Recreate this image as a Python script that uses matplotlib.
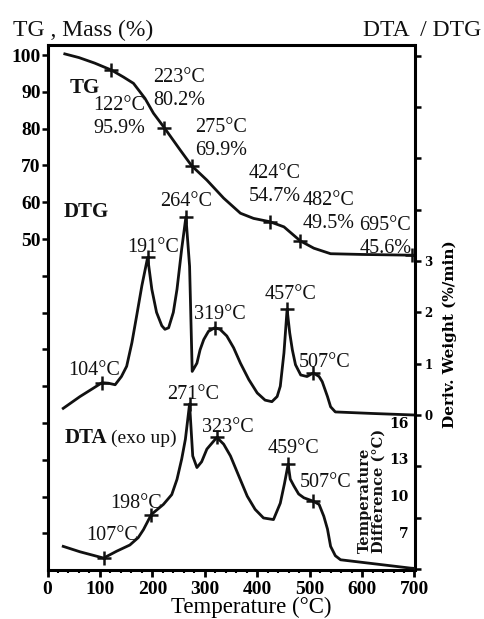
import matplotlib
matplotlib.use("Agg")
import matplotlib.pyplot as plt
from matplotlib.ticker import FixedLocator, FixedFormatter, MultipleLocator

plt.rcParams['font.family'] = ['Liberation Serif', 'DejaVu Serif']

# ---------------- data ----------------
tg_T = [33, 60, 90, 122, 145, 164, 186, 202, 223, 253, 275, 304, 336, 368, 393, 424, 451, 482, 508, 540, 600, 695, 700]
tg_v = [100.3, 99.3, 97.8, 95.9, 94.0, 92.3, 88.2, 84.2, 80.2, 74.2, 69.9, 66.0, 61.1, 57.0, 55.6, 54.7, 53.3, 49.5, 47.5, 46.0, 45.8, 45.6, 45.6]

dtg_T = [30, 62, 87, 104, 116, 129, 141, 151, 161, 170, 180, 191, 199, 208, 218, 224, 231, 240, 247, 256, 264,
         271, 276, 285, 291, 298, 307, 319, 329, 342, 355, 368, 384, 400, 415, 428, 438, 444, 451, 457,
         462, 467, 473, 483, 495, 507, 518, 524, 534, 540, 549, 620, 700]
dtg_v = [0.13, 0.36, 0.52, 0.63, 0.62, 0.59, 0.75, 0.95, 1.41, 1.93, 2.52, 3.07, 2.45, 2.0, 1.74, 1.67, 1.70, 2.0, 2.45, 3.24, 3.86,
         2.9, 0.85, 1.01, 1.27, 1.47, 1.63, 1.70, 1.67, 1.54, 1.31, 1.01, 0.69, 0.43, 0.29, 0.26, 0.36, 0.56, 1.21, 2.06,
         1.6, 1.27, 0.98, 0.78, 0.75, 0.82, 0.75, 0.65, 0.36, 0.16, 0.06, 0.03, 0.0]

dta_T = [30, 62, 107, 132, 157, 173, 183, 198, 221, 237, 247, 256, 263, 271, 277, 285, 294, 304, 323, 336, 349,
         365, 381, 396, 412, 431, 444, 452, 459, 463, 470, 479, 489, 507, 518, 527, 534, 540, 549, 559, 693, 700]
dta_v = [5.89, 5.45, 4.94, 5.5, 6.0, 6.6, 7.25, 8.48, 9.3, 10.1, 11.34, 13.0, 14.6, 17.47, 13.24, 12.3, 12.77, 13.8, 14.75, 14.2, 13.24,
         11.6, 9.97, 8.9, 8.2, 8.07, 9.4, 11.0, 12.57, 11.36, 10.8, 10.15, 9.84, 9.56, 9.3, 8.34, 7.3, 5.89, 5.13, 4.8, 4.12, 4.1]

tg_mark_T = [122, 223, 275, 424, 482, 695]
tg_mark_v = [95.9, 80.2, 69.9, 54.7, 49.5, 45.6]
tg_labels = ["122°C\n95.9%", "223°C\n80.2%", "275°C\n69.9%", "424°C\n54.7%", "482°C\n49.5%", "695°C\n45.6%"]

dtg_mark_T = [104, 191, 264, 319, 457, 507]
dtg_mark_v = [0.63, 3.07, 3.86, 1.70, 2.06, 0.82]
dtg_labels = ["104°C", "191°C", "264°C", "319°C", "457°C", "507°C"]

dta_mark_T = [107, 198, 271, 323, 459, 507]
dta_mark_v = [4.94, 8.48, 17.47, 14.75, 12.57, 9.56]
dta_labels = ["107°C", "198°C", "271°C", "323°C", "459°C", "507°C"]

x_ticks = [0, 100, 200, 300, 400, 500, 600, 700]
tg_ticks = [-40, -30, -20, -10, 0, 10, 20, 30, 40, 50, 60, 70, 80, 90, 100]
tg_ticklabels = ["", "", "", "", "", "", "", "", "", "50", "60", "70", "80", "90", "100"]
dtg_ticks = [-3, -2, -1, 0, 1, 2, 3, 4, 5, 6, 7]
dtg_ticklabels = ["", "", "", "0", "1", "2", "3", "", "", "", ""]
dta_ticks = [7, 10, 13, 16]
dta_ticklabels = ["7", "10", "13", "16"]

# ---------------- layout (pixel offsets for labels, in px; last-line baseline) ----------------
tg_off = [(-17.8, -62.9), (-11.6, 22.9), (3.2, 10.8), (-20.8, 21.2), (2, 12.8), (-52.5, 2.2)]
dtg_off = [(-33.4, 7.9), (-20.9, 5.4), (-26, 11.1), (-20.8, 8.3), (-22, 10), (-14.2, 6.2)]
dta_off = [(-17, 18), (-41.5, 6.5), (-22.7, 5), (-14.9, 5.4), (-21, 11), (-13.2, 14.2)]

W, H = 484, 619
fig = plt.figure(figsize=(W / 100, H / 100), dpi=100)
L, R, T, B = 47.5, 414.5, 45, 570
ax = fig.add_axes([L / W, 1 - B / H, (R - L) / W, (B - T) / H])
ax2 = ax.twinx()
ax3 = ax.twinx()

lw = 2.0
col = '#111111'
ax.plot(tg_T, tg_v, color=col, lw=lw, solid_joinstyle='round')
ax.plot(tg_mark_T, tg_mark_v, ls='none', marker='+', ms=10, mew=1.8, color=col)
ax2.plot(dtg_T, dtg_v, color=col, lw=lw, solid_joinstyle='round')
ax2.plot(dtg_mark_T, dtg_mark_v, ls='none', marker='+', ms=10, mew=1.8, color=col)
ax3.plot(dta_T, dta_v, color=col, lw=lw, solid_joinstyle='round')
ax3.plot(dta_mark_T, dta_mark_v, ls='none', marker='+', ms=10, mew=1.8, color=col)

ax.set_xlim(0, 700)
ax.set_ylim(-39.95, 102.72)
ax2.set_ylim(-3.02, 7.21)
ax3.set_ylim(3.97, 46.65)

fs_ann = 14.5
pt = 0.72
for Tm, v, lab, (dx, dy) in zip(tg_mark_T, tg_mark_v, tg_labels, tg_off):
    ax.annotate(lab, xy=(Tm, v), xytext=(dx * pt, dy * pt), textcoords='offset points',
                ha='left', va='baseline', fontsize=fs_ann, linespacing=1.28, color=col)
for Tm, v, lab, (dx, dy) in zip(dtg_mark_T, dtg_mark_v, dtg_labels, dtg_off):
    ax2.annotate(lab, xy=(Tm, v), xytext=(dx * pt, dy * pt), textcoords='offset points',
                 ha='left', va='baseline', fontsize=fs_ann, color=col)
for Tm, v, lab, (dx, dy) in zip(dta_mark_T, dta_mark_v, dta_labels, dta_off):
    ax3.annotate(lab, xy=(Tm, v), xytext=(dx * pt, dy * pt), textcoords='offset points',
                 ha='left', va='baseline', fontsize=fs_ann, color=col)

# spines
for s in ['left', 'bottom', 'top']:
    ax.spines[s].set_linewidth(2.2)
ax.spines['right'].set_visible(False)
for s in ['left', 'bottom', 'top']:
    ax2.spines[s].set_visible(False)
ax2.spines['right'].set_linewidth(2.2)
for s in ax3.spines.values():
    s.set_visible(False)

# x axis
ax.xaxis.set_major_locator(FixedLocator(x_ticks))
ax.xaxis.set_minor_locator(MultipleLocator(20))
ax.tick_params(axis='x', which='major', length=5, width=2, direction='out', pad=3,
               labelsize=14)
ax.tick_params(axis='x', which='minor', length=2.5, width=1.5, direction='out')
for lab in ax.get_xticklabels():
    lab.set_fontweight('bold')
ax.set_xlabel('Temperature (°C)', fontsize=16.5)
ax.xaxis.label.set_verticalalignment('baseline')
ax.xaxis.set_label_coords((251.5 - L) / (R - L), (B - 613) / (B - T))

# left axis
ax.yaxis.set_major_locator(FixedLocator(tg_ticks))
ax.yaxis.set_major_formatter(FixedFormatter(tg_ticklabels))
ax.tick_params(axis='y', length=4, width=1.8, direction='out', pad=1, labelsize=14)
for lab in ax.get_yticklabels():
    lab.set_fontweight('bold')

# DTG axis
ax2.yaxis.set_major_locator(FixedLocator(dtg_ticks))
ax2.yaxis.set_major_formatter(FixedFormatter(dtg_ticklabels))
ax2.tick_params(axis='y', length=4, width=1.8, direction='out', pad=3, labelsize=8.5)
for lab in ax2.get_yticklabels():
    lab.set_fontfamily('DejaVu Serif')
    lab.set_fontweight('bold')
ax2.set_ylabel('Deriv. Weight (%/min)', fontsize=11, fontfamily='DejaVu Serif',
               fontweight='bold', rotation=90)
ax2.yaxis.set_label_coords((443 - L) / (R - L), (B - 334) / (B - T))

# DTA axis (labels inside)
ax3.yaxis.set_major_locator(FixedLocator(dta_ticks))
ax3.yaxis.set_major_formatter(FixedFormatter(dta_ticklabels))
ax3.tick_params(axis='y', length=0, pad=-4, labelsize=10)
for lab in ax3.get_yticklabels():
    lab.set_fontfamily('DejaVu Serif')
    lab.set_fontweight('bold')
    lab.set_horizontalalignment('right')

fig.text(372 / W, 1 - 553 / H, 'Temperature\nDifference (°C)', rotation=90, ha='center', va='bottom',
         multialignment='left', fontsize=10.5, fontfamily='DejaVu Serif', fontweight='bold',
         linespacing=0.95, color=col)

# titles and curve labels
fig.text(13 / W, 1 - 36 / H, 'TG , Mass (%)', fontsize=17, ha='left', va='baseline', color=col)
fig.text(363 / W, 1 - 36 / H, 'DTA  / DTG', fontsize=17, ha='left', va='baseline', color=col)
fig.text(70 / W, 1 - 93 / H, 'TG', fontsize=15, fontweight='bold', ha='left', va='baseline', color=col)
fig.text(64 / W, 1 - 217 / H, 'DTG', fontsize=15, fontweight='bold', ha='left', va='baseline', color=col)
fig.text(65 / W, 1 - 443 / H, 'DTA', fontsize=15, fontweight='bold', ha='left', va='baseline', color=col)
fig.text(111 / W, 1 - 443 / H, '(exo up)', fontsize=14, ha='left', va='baseline', color=col)

fig.savefig('out.png', dpi=100)
